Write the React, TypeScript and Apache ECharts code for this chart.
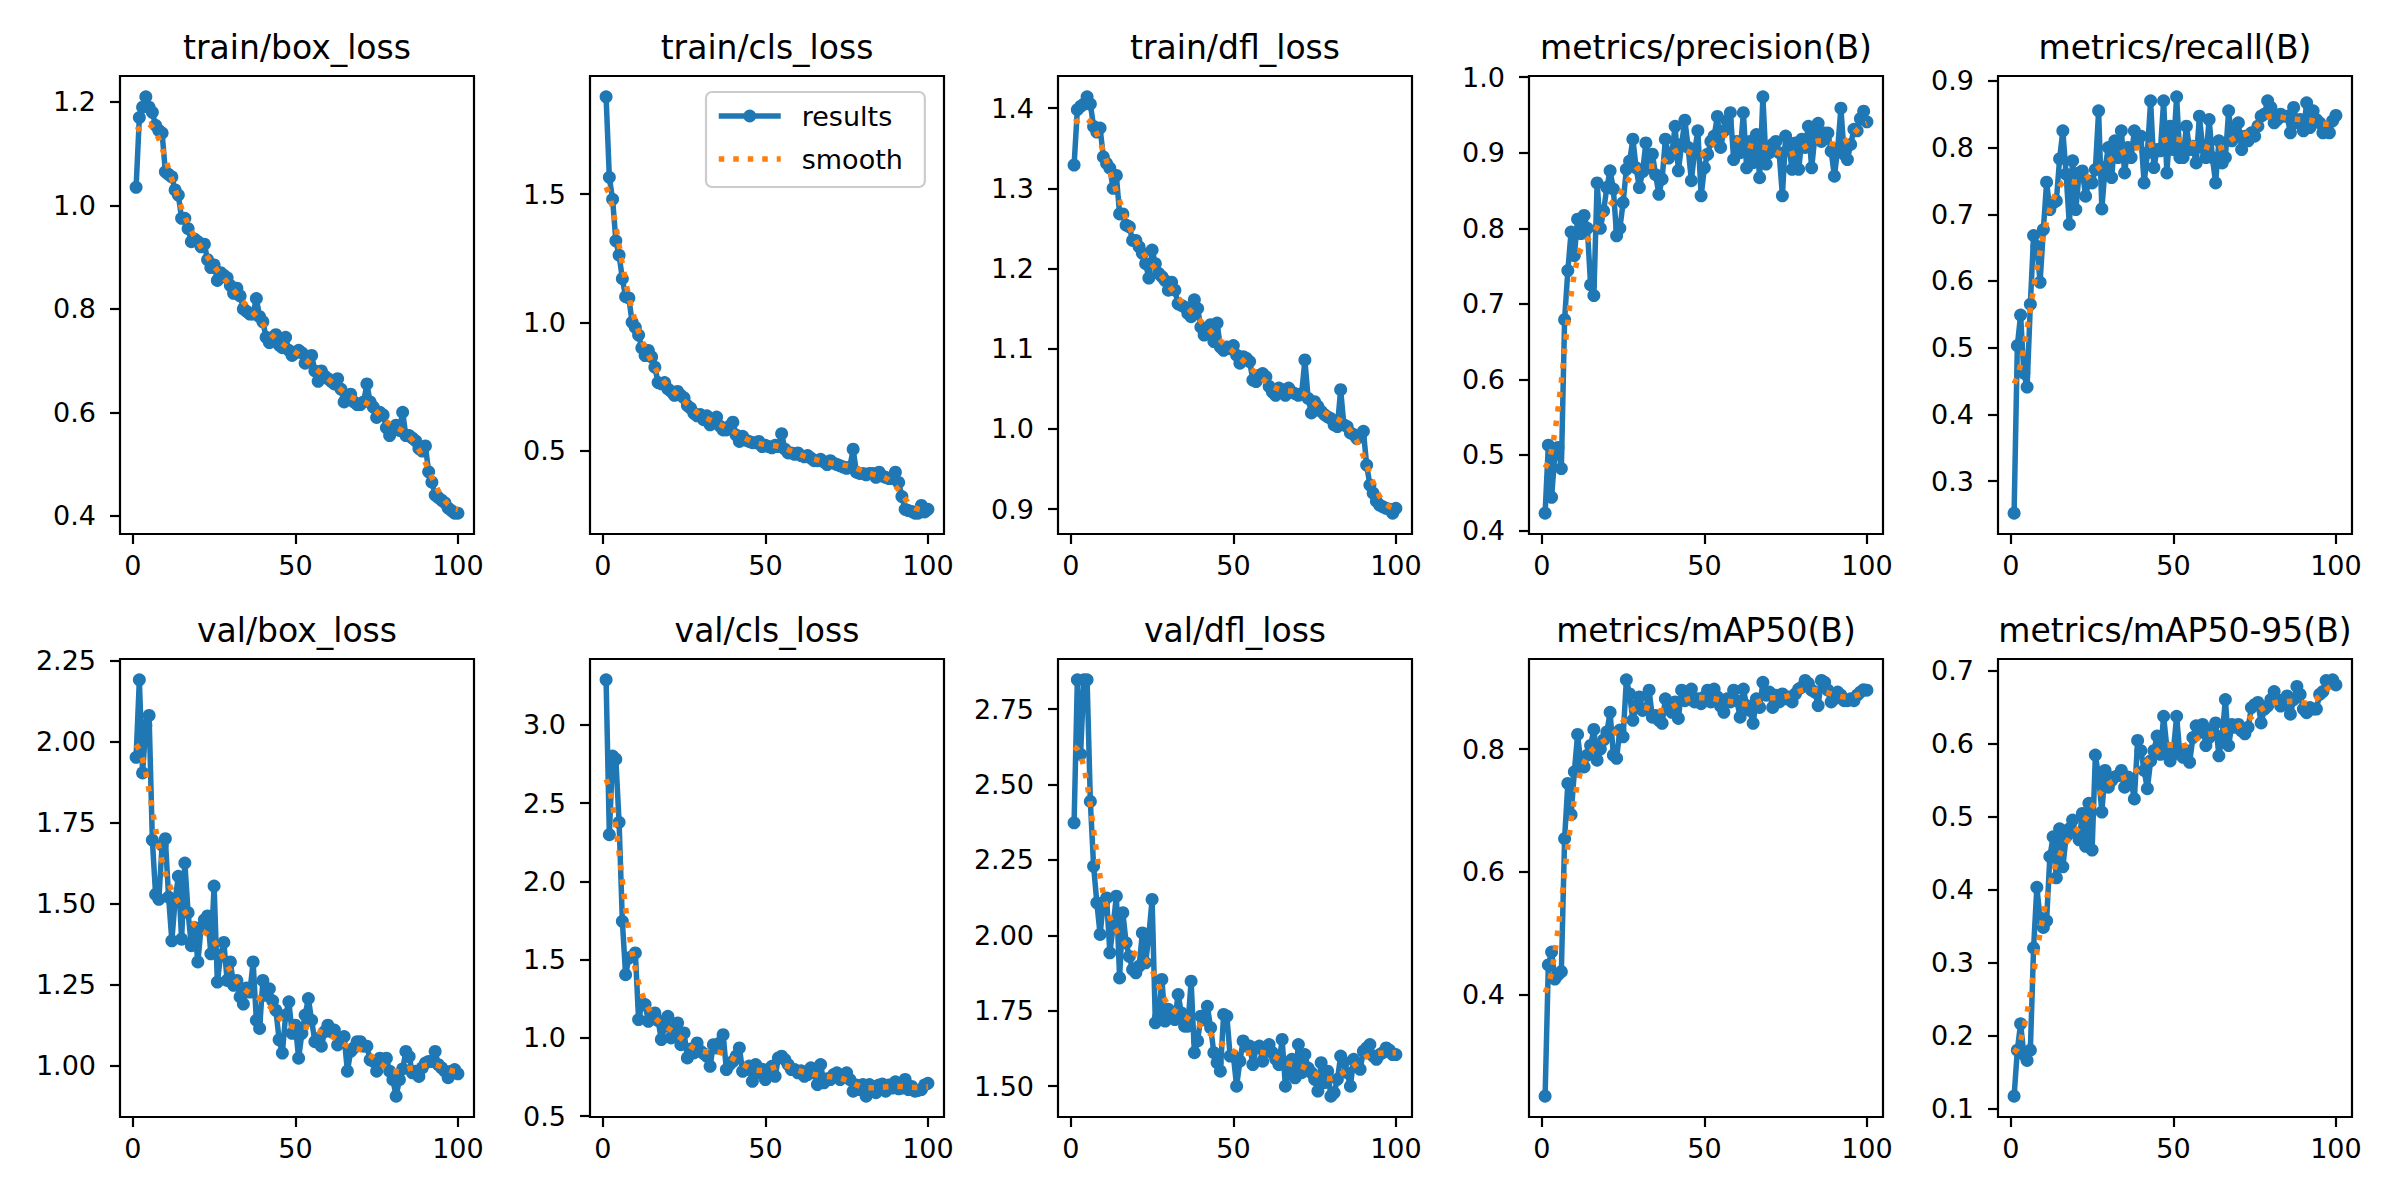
import React, { useEffect, useRef } from "react";
import * as echarts from "echarts";

const FONT = "DejaVu Sans";

const titles = [
  "train/box_loss", "train/cls_loss", "train/dfl_loss", "metrics/precision(B)", "metrics/recall(B)",
  "val/box_loss", "val/cls_loss", "val/dfl_loss", "metrics/mAP50(B)", "metrics/mAP50-95(B)",
];

const xTicks = [0, 50, 100];

const trainBox = [
  1.035, 1.17, 1.19, 1.21, 1.19, 1.18, 1.155, 1.145, 1.14, 1.065,
  1.06, 1.055, 1.03, 1.02, 0.975, 0.975, 0.955, 0.93, 0.935, 0.93,
  0.92, 0.925, 0.895, 0.88, 0.885, 0.855, 0.87, 0.865, 0.86, 0.845,
  0.83, 0.84, 0.825, 0.80, 0.795, 0.79, 0.79, 0.82, 0.785, 0.775,
  0.745, 0.735, 0.745, 0.75, 0.73, 0.725, 0.745, 0.72, 0.71, 0.715,
  0.72, 0.715, 0.695, 0.70, 0.71, 0.68, 0.66, 0.68, 0.67, 0.665,
  0.66, 0.655, 0.665, 0.645, 0.62, 0.63, 0.635, 0.62, 0.615, 0.615,
  0.62, 0.655, 0.62, 0.61, 0.59, 0.60, 0.595, 0.57, 0.555, 0.565,
  0.575, 0.565, 0.60, 0.555, 0.555, 0.55, 0.545, 0.53, 0.525, 0.535,
  0.485, 0.465, 0.44, 0.435, 0.43, 0.425, 0.415, 0.41, 0.405, 0.405,
];

const trainCls = [
  1.88, 1.566, 1.48, 1.318, 1.262, 1.17, 1.10, 1.095, 1.0, 0.98,
  0.95, 0.90, 0.87, 0.89, 0.865, 0.825, 0.765, 0.76, 0.765, 0.74,
  0.73, 0.715, 0.73, 0.715, 0.705, 0.675, 0.665, 0.645, 0.635, 0.64,
  0.62, 0.635, 0.60, 0.62, 0.63, 0.595, 0.58, 0.58, 0.595, 0.61,
  0.56, 0.535, 0.555, 0.54, 0.535, 0.53, 0.53, 0.535, 0.515, 0.52,
  0.515, 0.51, 0.52, 0.515, 0.565, 0.505, 0.49, 0.49, 0.485, 0.49,
  0.48, 0.475, 0.48, 0.47, 0.46, 0.46, 0.465, 0.455, 0.445, 0.46,
  0.45, 0.445, 0.44, 0.435, 0.43, 0.435, 0.505, 0.415, 0.41, 0.41,
  0.405, 0.41, 0.41, 0.395, 0.415, 0.40, 0.395, 0.39, 0.39, 0.415,
  0.375, 0.32, 0.27, 0.265, 0.262, 0.255, 0.255, 0.285, 0.26, 0.27,
];

const trainDfl = [
  1.329, 1.398, 1.402, 1.405, 1.414, 1.405, 1.377, 1.37, 1.375, 1.339,
  1.331, 1.325, 1.30, 1.316, 1.268, 1.268, 1.254, 1.252, 1.235, 1.235,
  1.227, 1.219, 1.206, 1.188, 1.223, 1.206, 1.194, 1.19, 1.185, 1.173,
  1.183, 1.173, 1.156, 1.154, 1.152, 1.144, 1.14, 1.161, 1.15, 1.127,
  1.117, 1.123, 1.13, 1.109, 1.132, 1.102, 1.098, 1.102, 1.10, 1.104,
  1.092, 1.082, 1.09, 1.088, 1.084, 1.061, 1.059, 1.067, 1.069, 1.065,
  1.053, 1.046, 1.042, 1.051, 1.049, 1.042, 1.051, 1.046, 1.044, 1.042,
  1.044, 1.086, 1.038, 1.02, 1.034, 1.028, 1.022, 1.018, 1.015, 1.013,
  1.005, 1.003, 1.049, 1.005, 1.003, 0.995, 0.993, 0.988, 0.99, 0.997,
  0.955, 0.93, 0.92, 0.91, 0.905, 0.903, 0.901, 0.90, 0.895, 0.901,
];

const precision = [
  0.423, 0.513, 0.444, 0.501, 0.51, 0.482, 0.679, 0.744, 0.795, 0.764,
  0.812, 0.793, 0.817, 0.80, 0.725, 0.711, 0.86, 0.80, 0.823, 0.854,
  0.876, 0.852, 0.79, 0.80, 0.834, 0.878, 0.889, 0.918, 0.88, 0.854,
  0.875, 0.913, 0.88, 0.898, 0.871, 0.845, 0.865, 0.918, 0.893, 0.90,
  0.935, 0.876, 0.911, 0.943, 0.907, 0.863, 0.902, 0.929, 0.843, 0.88,
  0.898, 0.915, 0.922, 0.948, 0.907, 0.929, 0.942, 0.953, 0.891, 0.915,
  0.90, 0.953, 0.88, 0.915, 0.887, 0.924, 0.867, 0.974, 0.885, 0.90,
  0.911, 0.915, 0.90, 0.843, 0.922, 0.907, 0.878, 0.913, 0.878, 0.918,
  0.907, 0.935, 0.88, 0.922, 0.939, 0.915, 0.926, 0.926, 0.902, 0.869,
  0.905, 0.959, 0.898, 0.891, 0.911, 0.931, 0.929, 0.945, 0.955, 0.941,
];

const recall = [
  0.252, 0.503, 0.549, 0.462, 0.441, 0.565, 0.668, 0.652, 0.598, 0.677,
  0.748, 0.707, 0.717, 0.72, 0.783, 0.825, 0.76, 0.685, 0.78, 0.707,
  0.762, 0.765, 0.727, 0.75, 0.747, 0.767, 0.855, 0.708, 0.77, 0.80,
  0.755, 0.81, 0.785, 0.825, 0.762, 0.80, 0.785, 0.825, 0.807, 0.817,
  0.747, 0.792, 0.87, 0.77, 0.797, 0.795, 0.87, 0.762, 0.832, 0.797,
  0.876, 0.785, 0.785, 0.832, 0.797, 0.802, 0.777, 0.847, 0.80, 0.785,
  0.842, 0.785, 0.747, 0.81, 0.777, 0.785, 0.855, 0.81, 0.822, 0.837,
  0.797, 0.817, 0.81, 0.822, 0.817, 0.832, 0.847, 0.85, 0.87, 0.86,
  0.837, 0.842, 0.85, 0.847, 0.847, 0.822, 0.86, 0.837, 0.842, 0.825,
  0.867, 0.83, 0.855, 0.842, 0.837, 0.822, 0.825, 0.822, 0.84, 0.848,
];

const valBox = [
  1.951, 2.19, 1.903, 2.05, 2.08, 1.696, 1.528, 1.513, 1.68, 1.70,
  1.52, 1.385, 1.51, 1.584, 1.39, 1.625, 1.472, 1.37, 1.426, 1.32,
  1.426, 1.45, 1.462, 1.345, 1.554, 1.258, 1.34, 1.38, 1.263, 1.32,
  1.248, 1.263, 1.212, 1.19, 1.24, 1.227, 1.32, 1.14, 1.115, 1.263,
  1.217, 1.237, 1.2, 1.171, 1.08, 1.039, 1.156, 1.197, 1.10, 1.125,
  1.023, 1.10, 1.156, 1.207, 1.14, 1.074, 1.085, 1.06, 1.105, 1.125,
  1.105, 1.11, 1.064, 1.08, 1.09, 0.983, 1.044, 1.055, 1.074, 1.074,
  1.06, 1.06, 1.018, 1.013, 0.983, 1.023, 1.018, 1.023, 0.983, 0.957,
  0.906, 0.957, 0.99, 1.044, 1.028, 0.978, 0.983, 0.967, 0.993, 1.008,
  1.013, 1.013, 1.044, 1.003, 0.993, 0.983, 0.963, 0.983, 0.988, 0.975,
];

const valCls = [
  3.287, 2.298, 2.80, 2.78, 2.377, 1.745, 1.404, 1.51, 1.52, 1.543,
  1.117, 1.213, 1.213, 1.106, 1.149, 1.16, 1.11, 0.99, 1.074, 1.138,
  1.0, 1.05, 1.096, 0.957, 1.032, 0.872, 0.93, 0.904, 0.968, 0.915,
  0.9, 0.883, 0.819, 0.957, 0.936, 0.968, 1.021, 0.798, 0.83, 0.85,
  0.883, 0.936, 0.787, 0.798, 0.82, 0.723, 0.83, 0.777, 0.80, 0.734,
  0.798, 0.819, 0.755, 0.872, 0.883, 0.862, 0.83, 0.798, 0.798, 0.777,
  0.79, 0.755, 0.766, 0.809, 0.777, 0.702, 0.83, 0.713, 0.74, 0.734,
  0.766, 0.777, 0.734, 0.75, 0.777, 0.734, 0.66, 0.70, 0.67, 0.702,
  0.628, 0.702, 0.69, 0.65, 0.70, 0.705, 0.66, 0.70, 0.68, 0.72,
  0.675, 0.68, 0.735, 0.67, 0.69, 0.66, 0.665, 0.67, 0.70, 0.71,
];

const valDfl = [
  2.373, 2.847, 2.60, 2.847, 2.847, 2.444, 2.229, 2.108, 2.003, 2.108,
  2.124, 1.942, 2.03, 2.13, 1.859, 2.075, 1.975, 1.93, 1.887, 1.876,
  1.898, 2.008, 1.909, 2.0, 2.119, 1.71, 1.73, 1.854, 1.716, 1.755,
  1.73, 1.721, 1.804, 1.743, 1.699, 1.699, 1.848, 1.611, 1.65, 1.732,
  1.72, 1.765, 1.694, 1.611, 1.578, 1.55, 1.738, 1.732, 1.6, 1.6,
  1.5, 1.583, 1.65, 1.633, 1.633, 1.572, 1.627, 1.633, 1.583, 1.62,
  1.638, 1.611, 1.59, 1.572, 1.655, 1.5, 1.556, 1.589, 1.528, 1.638,
  1.545, 1.605, 1.56, 1.545, 1.523, 1.484, 1.578, 1.512, 1.55, 1.467,
  1.478, 1.523, 1.6, 1.58, 1.545, 1.5, 1.589, 1.567, 1.556, 1.616,
  1.627, 1.638, 1.6, 1.589, 1.605, 1.611, 1.627, 1.62, 1.605, 1.605,
];

const map50 = [
  0.234, 0.448, 0.469, 0.425, 0.432, 0.437, 0.654, 0.744, 0.693, 0.763,
  0.824, 0.775, 0.771, 0.79, 0.806, 0.832, 0.782, 0.80, 0.815, 0.828,
  0.86, 0.79, 0.785, 0.831, 0.82, 0.913, 0.89, 0.847, 0.871, 0.885,
  0.863, 0.866, 0.896, 0.852, 0.855, 0.847, 0.842, 0.882, 0.871, 0.86,
  0.877, 0.85, 0.896, 0.879, 0.89, 0.898, 0.877, 0.882, 0.874, 0.885,
  0.896, 0.877, 0.898, 0.885, 0.87, 0.86, 0.882, 0.877, 0.896, 0.879,
  0.852, 0.898, 0.871, 0.863, 0.842, 0.882, 0.868, 0.909, 0.888, 0.893,
  0.868, 0.888, 0.877, 0.89, 0.882, 0.885, 0.877, 0.89, 0.898, 0.901,
  0.912, 0.907, 0.896, 0.893, 0.871, 0.912, 0.909, 0.896, 0.877, 0.882,
  0.893, 0.888, 0.879, 0.879, 0.882, 0.879, 0.888, 0.893, 0.897, 0.896,
];

const map5095 = [
  0.117, 0.18, 0.216, 0.174, 0.166, 0.18, 0.32, 0.403, 0.361, 0.348,
  0.357, 0.445, 0.472, 0.416, 0.483, 0.431, 0.472, 0.483, 0.495, 0.477,
  0.468, 0.504, 0.459, 0.518, 0.454, 0.584, 0.555, 0.506, 0.563, 0.54,
  0.549, 0.554, 0.556, 0.563, 0.54, 0.554, 0.548, 0.524, 0.604, 0.59,
  0.563, 0.538, 0.576, 0.59, 0.61, 0.585, 0.637, 0.594, 0.576, 0.59,
  0.637, 0.585, 0.581, 0.59, 0.574, 0.608, 0.624, 0.615, 0.626, 0.597,
  0.608, 0.619, 0.628, 0.583, 0.61, 0.66, 0.597, 0.626, 0.622, 0.626,
  0.617, 0.613, 0.622, 0.649, 0.653, 0.656, 0.628, 0.647, 0.651, 0.66,
  0.671, 0.66, 0.651, 0.653, 0.665, 0.64, 0.66, 0.678, 0.667, 0.647,
  0.642, 0.649, 0.647, 0.647, 0.667, 0.671, 0.686, 0.685, 0.687, 0.68,
];

const panelValues = [trainBox, trainCls, trainDfl, precision, recall, valBox, valCls, valDfl, map50, map5095];

const yTicks = [
  [0.4, 0.6, 0.8, 1.0, 1.2],
  [0.5, 1.0, 1.5],
  [0.9, 1.0, 1.1, 1.2, 1.3, 1.4],
  [0.4, 0.5, 0.6, 0.7, 0.8, 0.9, 1.0],
  [0.3, 0.4, 0.5, 0.6, 0.7, 0.8, 0.9],
  [1.0, 1.25, 1.5, 1.75, 2.0, 2.25],
  [0.5, 1.0, 1.5, 2.0, 2.5, 3.0],
  [1.5, 1.75, 2.0, 2.25, 2.5, 2.75],
  [0.4, 0.6, 0.8],
  [0.1, 0.2, 0.3, 0.4, 0.5, 0.6, 0.7],
];
const yDecimals = [1, 1, 1, 1, 1, 2, 1, 2, 1, 1];

const BLUE = "#1f77b4";
const ORANGE = "#ff7f0e";
const LINE_W = 5.5;
const DOTS = [5.5, 9];

// same filter the training script uses for the dotted "smooth" line (gaussian, sigma 3, reflect edges)
function gaussianSmooth(y: number[], sigma = 3) {
  const r = Math.floor(4 * sigma + 0.5);
  const w: number[] = [];
  let sum = 0;
  for (let k = -r; k <= r; k++) {
    const v = Math.exp(-0.5 * (k / sigma) ** 2);
    w.push(v);
    sum += v;
  }
  const n = y.length;
  return y.map((_, i) => {
    let acc = 0;
    for (let k = -r; k <= r; k++) {
      let j = i + k;
      if (j < 0) j = -j - 1;
      if (j >= n) j = 2 * n - j - 1;
      acc += w[k + r] * y[j];
    }
    return acc / sum;
  });
}

const GRID_LEFT = [120, 590, 1058, 1529, 1998];
const GRID_TOP = [76, 659];
const GRID_W = 354;
const GRID_H = 458;

export default function App() {
  const chartRef = useRef<HTMLDivElement>(null);

  useEffect(() => {
    if (!chartRef.current) return;
    const chart = echarts.init(chartRef.current, undefined, { renderer: "svg" });

    const grids: any[] = [];
    const xAxes: any[] = [];
    const yAxes: any[] = [];
    const series: any[] = [];
    const titleList: any[] = [];

    panelValues.forEach((vals, i) => {
      const col = i % 5;
      const row = Math.floor(i / 5);
      const epochs = vals.map((_, k) => k + 1);
      const smooth = gaussianSmooth(vals);
      const lo = Math.min(...vals);
      const hi = Math.max(...vals);
      const pad = (hi - lo) * 0.05;
      const dec = yDecimals[i];

      grids.push({
        left: GRID_LEFT[col], top: GRID_TOP[row], width: GRID_W, height: GRID_H,
        show: true, borderColor: "#000", borderWidth: 2.2, backgroundColor: "transparent",
      });
      titleList.push({
        text: titles[i],
        left: GRID_LEFT[col] + GRID_W / 2,
        top: GRID_TOP[row] - 45,
        textAlign: "center",
        padding: 0,
        textStyle: { fontSize: 33, fontWeight: "normal", color: "#000", fontFamily: FONT },
      });
      xAxes.push({
        gridIndex: i, type: "value", min: 1 - 99 * 0.05, max: 100 + 99 * 0.05,
        axisLine: { show: false, onZero: false },
        splitLine: { show: false },
        axisTick: { show: true, length: 10, lineStyle: { color: "#000", width: 2.2 }, customValues: xTicks },
        axisLabel: { customValues: xTicks, fontSize: 27, color: "#000", fontFamily: FONT, margin: 18 },
      });
      yAxes.push({
        gridIndex: i, type: "value", min: lo - pad, max: hi + pad,
        axisLine: { show: false, onZero: false },
        splitLine: { show: false },
        axisTick: { show: true, length: 10, lineStyle: { color: "#000", width: 2.2 }, customValues: yTicks[i] },
        axisLabel: {
          customValues: yTicks[i], fontSize: 27, color: "#000", fontFamily: FONT, margin: 24,
          formatter: (v: number) => v.toFixed(dec),
        },
      });
      series.push({
        name: "results", type: "line", xAxisIndex: i, yAxisIndex: i,
        data: epochs.map((e, k) => [e, vals[k]]),
        symbol: "circle", symbolSize: 13, showAllSymbol: true,
        lineStyle: { width: LINE_W, color: BLUE },
        itemStyle: { color: BLUE },
        z: 2, silent: true,
      });
      series.push({
        name: "smooth", type: "line", xAxisIndex: i, yAxisIndex: i,
        data: epochs.map((e, k) => [e, smooth[k]]),
        symbol: "none",
        lineStyle: { width: LINE_W, color: ORANGE, type: DOTS, cap: "butt" },
        itemStyle: { color: ORANGE },
        z: 3, silent: true,
      });
    });

    chart.setOption({
      backgroundColor: "#fff",
      animation: false,
      title: titleList,
      legend: {
        data: [
          { name: "results", lineStyle: { width: LINE_W, color: BLUE, type: "solid" } },
          { name: "smooth", itemStyle: { opacity: 0 }, lineStyle: { width: LINE_W, color: ORANGE, type: DOTS, cap: "butt" } },
        ],
        orient: "vertical",
        left: 706, top: 92,
        itemWidth: 62, itemHeight: 16, itemGap: 13,
        padding: [9, 22, 13, 10],
        borderColor: "#cccccc", borderWidth: 2.2, borderRadius: 6,
        backgroundColor: "rgba(255,255,255,0.8)",
        selectedMode: false,
        textStyle: { fontSize: 27, color: "#000", fontFamily: FONT, lineHeight: 30, padding: [0, 0, 0, 16] },
      },
      grid: grids,
      xAxis: xAxes,
      yAxis: yAxes,
      series,
    });

    return () => { chart.dispose(); };
  }, []);

  return (
    <div style={{ position: "fixed", left: 0, top: 0, width: 2400, height: 1200, background: "#fff" }}>
      <div ref={chartRef} style={{ width: 2400, height: 1200 }} />
    </div>
  );
}
